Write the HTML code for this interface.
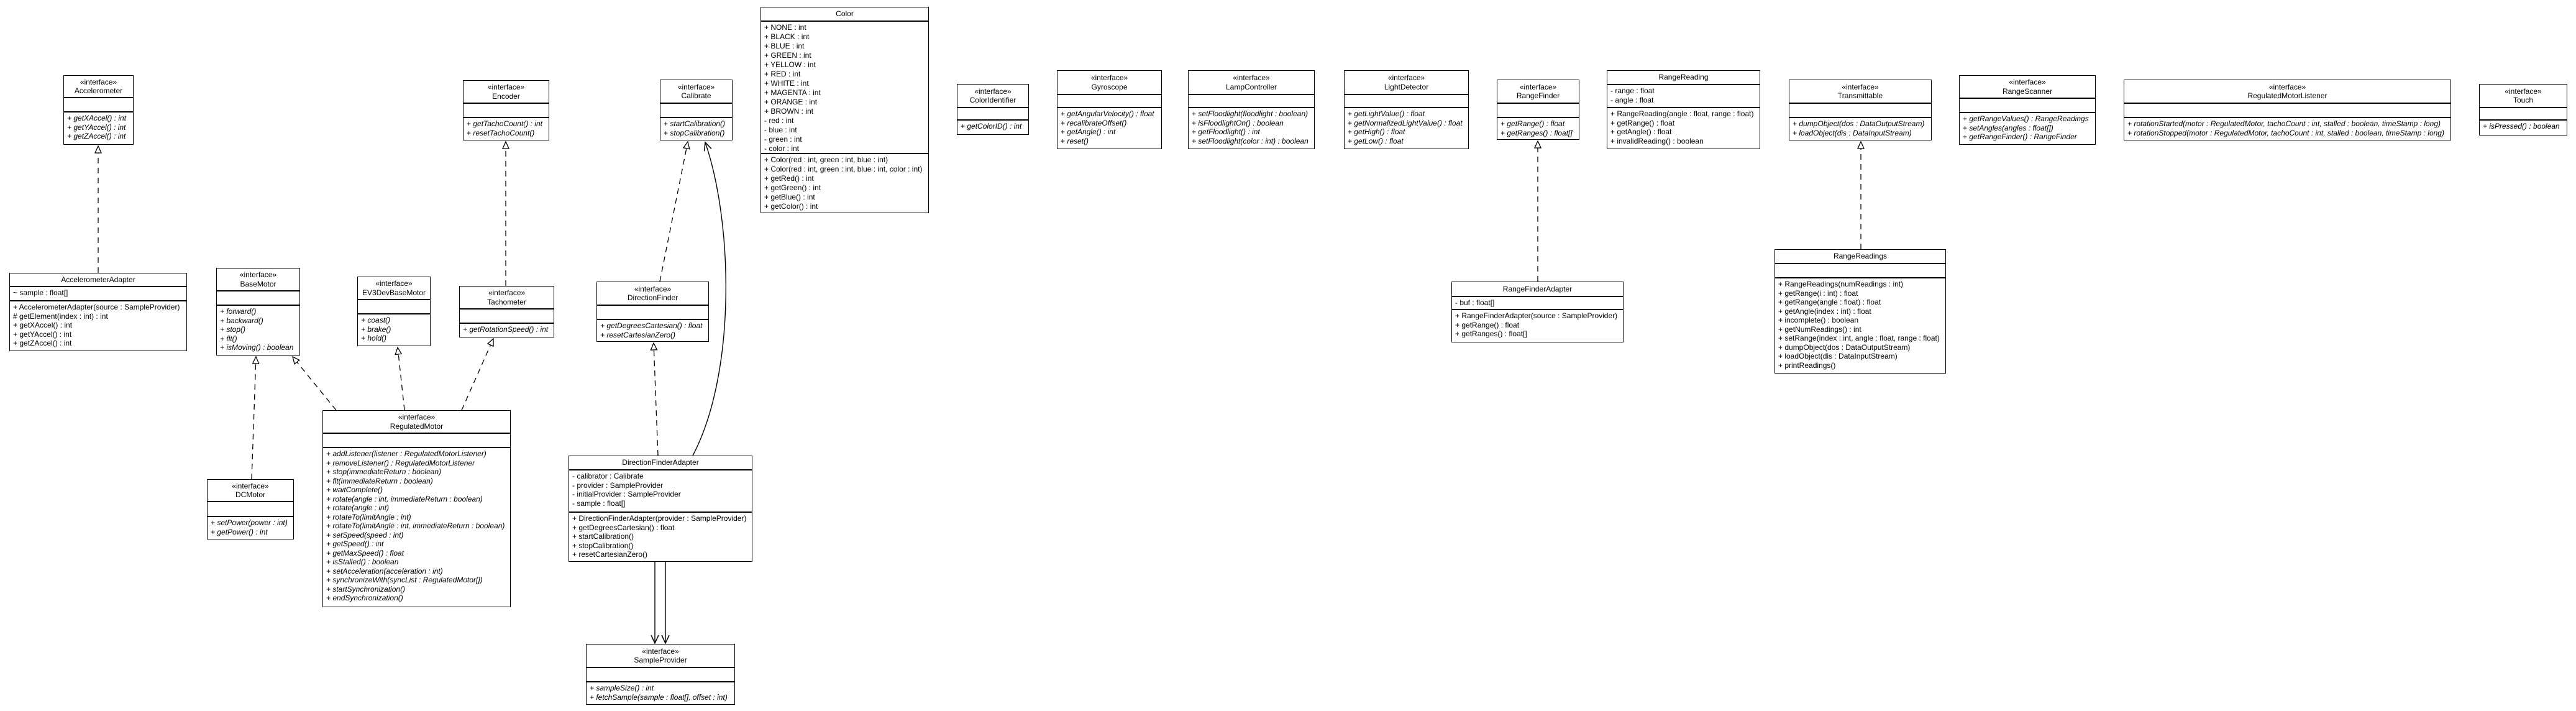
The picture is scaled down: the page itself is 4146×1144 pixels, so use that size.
<!DOCTYPE html>
<html><head><meta charset="utf-8"><style>
body{margin:0;width:4146px;height:1144px;background:#fff;position:relative;overflow:hidden;font-family:"Liberation Sans Narrow","Liberation Sans",sans-serif;font-size:12px;color:#000}
.b{position:absolute;border:1.5px solid #000;box-sizing:border-box;background:#fff;display:flex;flex-direction:column;white-space:nowrap;overflow:hidden}
.h{border-bottom:2px solid #000;box-sizing:border-box;text-align:center;display:flex;flex-direction:column;justify-content:center;line-height:14.5px;flex:none}
.a{border-bottom:2px solid #000;box-sizing:border-box;padding:2px 5px;line-height:14.5px;flex:none}
.m{padding:2px 5px;line-height:14.5px;flex:1}
.i{font-style:italic}
svg{position:absolute;left:0;top:0}
</style></head><body>
<svg width="4146" height="1144">
<defs>
<marker id="t" markerWidth="14" markerHeight="14" refX="12" refY="6" orient="auto" markerUnits="userSpaceOnUse"><path d="M1,1 L12,6 L1,11 Z" fill="#fff" stroke="#000" stroke-width="1.3"/></marker>
<marker id="v" markerWidth="16" markerHeight="16" refX="14" refY="7" orient="auto" markerUnits="userSpaceOnUse"><path d="M1,1 L14,7 L1,13" fill="none" stroke="#000" stroke-width="1.5"/></marker>
</defs>
<g stroke="#000" stroke-width="1.3" fill="none" stroke-dasharray="9,7">
<line x1="158" y1="439" x2="158" y2="235" marker-end="url(#t)"/>
<line x1="405" y1="771" x2="412" y2="574" marker-end="url(#t)"/>
<line x1="541" y1="660" x2="471" y2="574" marker-end="url(#t)"/>
<line x1="651" y1="660" x2="640" y2="559" marker-end="url(#t)"/>
<line x1="743" y1="660" x2="794" y2="545" marker-end="url(#t)"/>
<line x1="814" y1="460" x2="814" y2="228" marker-end="url(#t)"/>
<line x1="1062" y1="453" x2="1107" y2="228" marker-end="url(#t)"/>
<line x1="1059" y1="733" x2="1052" y2="552" marker-end="url(#t)"/>
<line x1="2475" y1="453" x2="2475" y2="227" marker-end="url(#t)"/>
<line x1="2995" y1="401" x2="2995" y2="228" marker-end="url(#t)"/>
</g>
<g stroke="#000" stroke-width="1.4" fill="none">
<path d="M1115 733 C1185 600,1180 360,1135 229" marker-end="url(#v)"/>
<line x1="1054" y1="904" x2="1054" y2="1035" marker-end="url(#v)"/>
<line x1="1071" y1="904" x2="1071" y2="1035" marker-end="url(#v)"/>
</g>
</svg>

<div class="b" style="left:102px;top:121px;width:113px;height:112px"><div class="h" style="height:36px">«interface»<br>Accelerometer</div><div class="a" style="height:23px"></div><div class="m i">+ getXAccel() : int<br>+ getYAccel() : int<br>+ getZAccel() : int</div></div>

<div class="b" style="left:15px;top:439px;width:286px;height:126px"><div class="h" style="height:22px">AccelerometerAdapter</div><div class="a" style="height:23px">~ sample : float[]</div><div class="m">+ AccelerometerAdapter(source : SampleProvider)<br># getElement(index : int) : int<br>+ getXAccel() : int<br>+ getYAccel() : int<br>+ getZAccel() : int</div></div>

<div class="b" style="left:745px;top:129px;width:139px;height:97px"><div class="h" style="height:37px">«interface»<br>Encoder</div><div class="a" style="height:23px"></div><div class="m i">+ getTachoCount() : int<br>+ resetTachoCount()</div></div>

<div class="b" style="left:1062px;top:128px;width:117px;height:98px"><div class="h" style="height:38px">«interface»<br>Calibrate</div><div class="a" style="height:23px"></div><div class="m i">+ startCalibration()<br>+ stopCalibration()</div></div>

<div class="b" style="left:1224px;top:11px;width:271px;height:332px"><div class="h" style="height:23px">Color</div><div class="a" style="height:213px;line-height:15px">+ NONE : int<br>+ BLACK : int<br>+ BLUE : int<br>+ GREEN : int<br>+ YELLOW : int<br>+ RED : int<br>+ WHITE : int<br>+ MAGENTA : int<br>+ ORANGE : int<br>+ BROWN : int<br>- red : int<br>- blue : int<br>- green : int<br>- color : int</div><div class="m" style="line-height:15px">+ Color(red : int, green : int, blue : int)<br>+ Color(red : int, green : int, blue : int, color : int)<br>+ getRed() : int<br>+ getGreen() : int<br>+ getBlue() : int<br>+ getColor() : int</div></div>

<div class="b" style="left:1540px;top:135px;width:116px;height:82px"><div class="h" style="height:38px">«interface»<br>ColorIdentifier</div><div class="a" style="height:20px"></div><div class="m i">+ getColorID() : int</div></div>

<div class="b" style="left:1701px;top:113px;width:169px;height:127px"><div class="h" style="height:39px">«interface»<br>Gyroscope</div><div class="a" style="height:21px"></div><div class="m i">+ getAngularVelocity() : float<br>+ recalibrateOffset()<br>+ getAngle() : int<br>+ reset()</div></div>

<div class="b" style="left:1912px;top:113px;width:204px;height:127px"><div class="h" style="height:39px">«interface»<br>LampController</div><div class="a" style="height:21px"></div><div class="m i">+ setFloodlight(floodlight : boolean)<br>+ isFloodlightOn() : boolean<br>+ getFloodlight() : int<br>+ setFloodlight(color : int) : boolean</div></div>

<div class="b" style="left:2163px;top:113px;width:201px;height:127px"><div class="h" style="height:39px">«interface»<br>LightDetector</div><div class="a" style="height:21px"></div><div class="m i">+ getLightValue() : float<br>+ getNormalizedLightValue() : float<br>+ getHigh() : float<br>+ getLow() : float</div></div>

<div class="b" style="left:2409px;top:128px;width:133px;height:97px"><div class="h" style="height:38px">«interface»<br>RangeFinder</div><div class="a" style="height:23px"></div><div class="m i">+ getRange() : float<br>+ getRanges() : float[]</div></div>

<div class="b" style="left:2586px;top:113px;width:247px;height:127px"><div class="h" style="height:23px">RangeReading</div><div class="a" style="height:37px">- range : float<br>- angle : float</div><div class="m">+ RangeReading(angle : float, range : float)<br>+ getRange() : float<br>+ getAngle() : float<br>+ invalidReading() : boolean</div></div>

<div class="b" style="left:2879px;top:128px;width:230px;height:98px"><div class="h" style="height:38px">«interface»<br>Transmittable</div><div class="a" style="height:23px"></div><div class="m i">+ dumpObject(dos : DataOutputStream)<br>+ loadObject(dis : DataInputStream)</div></div>

<div class="b" style="left:3153px;top:121px;width:220px;height:112px"><div class="h" style="height:37px">«interface»<br>RangeScanner</div><div class="a" style="height:23px"></div><div class="m i">+ getRangeValues() : RangeReadings<br>+ setAngles(angles : float[])<br>+ getRangeFinder() : RangeFinder</div></div>

<div class="b" style="left:3418px;top:128px;width:527px;height:98px"><div class="h" style="height:38px">«interface»<br>RegulatedMotorListener</div><div class="a" style="height:23px"></div><div class="m i">+ rotationStarted(motor : RegulatedMotor, tachoCount : int, stalled : boolean, timeStamp : long)<br>+ rotationStopped(motor : RegulatedMotor, tachoCount : int, stalled : boolean, timeStamp : long)</div></div>

<div class="b" style="left:3990px;top:135px;width:142px;height:83px"><div class="h" style="height:38px">«interface»<br>Touch</div><div class="a" style="height:20px"></div><div class="m i">+ isPressed() : boolean</div></div>

<div class="b" style="left:348px;top:431px;width:135px;height:141px"><div class="h" style="height:37px">«interface»<br>BaseMotor</div><div class="a" style="height:23px"></div><div class="m i">+ forward()<br>+ backward()<br>+ stop()<br>+ flt()<br>+ isMoving() : boolean</div></div>

<div class="b" style="left:575px;top:445px;width:118px;height:112px"><div class="h" style="height:37px">«interface»<br>EV3DevBaseMotor</div><div class="a" style="height:23px"></div><div class="m i">+ coast()<br>+ brake()<br>+ hold()</div></div>

<div class="b" style="left:739px;top:460px;width:153px;height:83px"><div class="h" style="height:37px">«interface»<br>Tachometer</div><div class="a" style="height:23px"></div><div class="m i">+ getRotationSpeed() : int</div></div>

<div class="b" style="left:960px;top:453px;width:181px;height:97px"><div class="h" style="height:38px">«interface»<br>DirectionFinder</div><div class="a" style="height:23px"></div><div class="m i">+ getDegreesCartesian() : float<br>+ resetCartesianZero()</div></div>

<div class="b" style="left:2336px;top:453px;width:277px;height:98px"><div class="h" style="height:24px">RangeFinderAdapter</div><div class="a" style="height:21px">- buf : float[]</div><div class="m">+ RangeFinderAdapter(source : SampleProvider)<br>+ getRange() : float<br>+ getRanges() : float[]</div></div>

<div class="b" style="left:2856px;top:401px;width:276px;height:200px"><div class="h" style="height:23px">RangeReadings</div><div class="a" style="height:23px"></div><div class="m">+ RangeReadings(numReadings : int)<br>+ getRange(i : int) : float<br>+ getRange(angle : float) : float<br>+ getAngle(index : int) : float<br>+ incomplete() : boolean<br>+ getNumReadings() : int<br>+ setRange(index : int, angle : float, range : float)<br>+ dumpObject(dos : DataOutputStream)<br>+ loadObject(dis : DataInputStream)<br>+ printReadings()</div></div>

<div class="b" style="left:333px;top:771px;width:140px;height:97px"><div class="h" style="height:36px">«interface»<br>DCMotor</div><div class="a" style="height:24px"></div><div class="m i">+ setPower(power : int)<br>+ getPower() : int</div></div>

<div class="b" style="left:519px;top:660px;width:303px;height:317px"><div class="h" style="height:37px">«interface»<br>RegulatedMotor</div><div class="a" style="height:23px"></div><div class="m i">+ addListener(listener : RegulatedMotorListener)<br>+ removeListener() : RegulatedMotorListener<br>+ stop(immediateReturn : boolean)<br>+ flt(immediateReturn : boolean)<br>+ waitComplete()<br>+ rotate(angle : int, immediateReturn : boolean)<br>+ rotate(angle : int)<br>+ rotateTo(limitAngle : int)<br>+ rotateTo(limitAngle : int, immediateReturn : boolean)<br>+ setSpeed(speed : int)<br>+ getSpeed() : int<br>+ getMaxSpeed() : float<br>+ isStalled() : boolean<br>+ setAcceleration(acceleration : int)<br>+ synchronizeWith(syncList : RegulatedMotor[])<br>+ startSynchronization()<br>+ endSynchronization()</div></div>

<div class="b" style="left:915px;top:733px;width:296px;height:171px"><div class="h" style="height:23px">DirectionFinderAdapter</div><div class="a" style="height:68px">- calibrator : Calibrate<br>- provider : SampleProvider<br>- initialProvider : SampleProvider<br>- sample : float[]</div><div class="m">+ DirectionFinderAdapter(provider : SampleProvider)<br>+ getDegreesCartesian() : float<br>+ startCalibration()<br>+ stopCalibration()<br>+ resetCartesianZero()</div></div>

<div class="b" style="left:943px;top:1036px;width:240px;height:98px"><div class="h" style="height:38px">«interface»<br>SampleProvider</div><div class="a" style="height:23px"></div><div class="m i">+ sampleSize() : int<br>+ fetchSample(sample : float[], offset : int)</div></div>
</body></html>
